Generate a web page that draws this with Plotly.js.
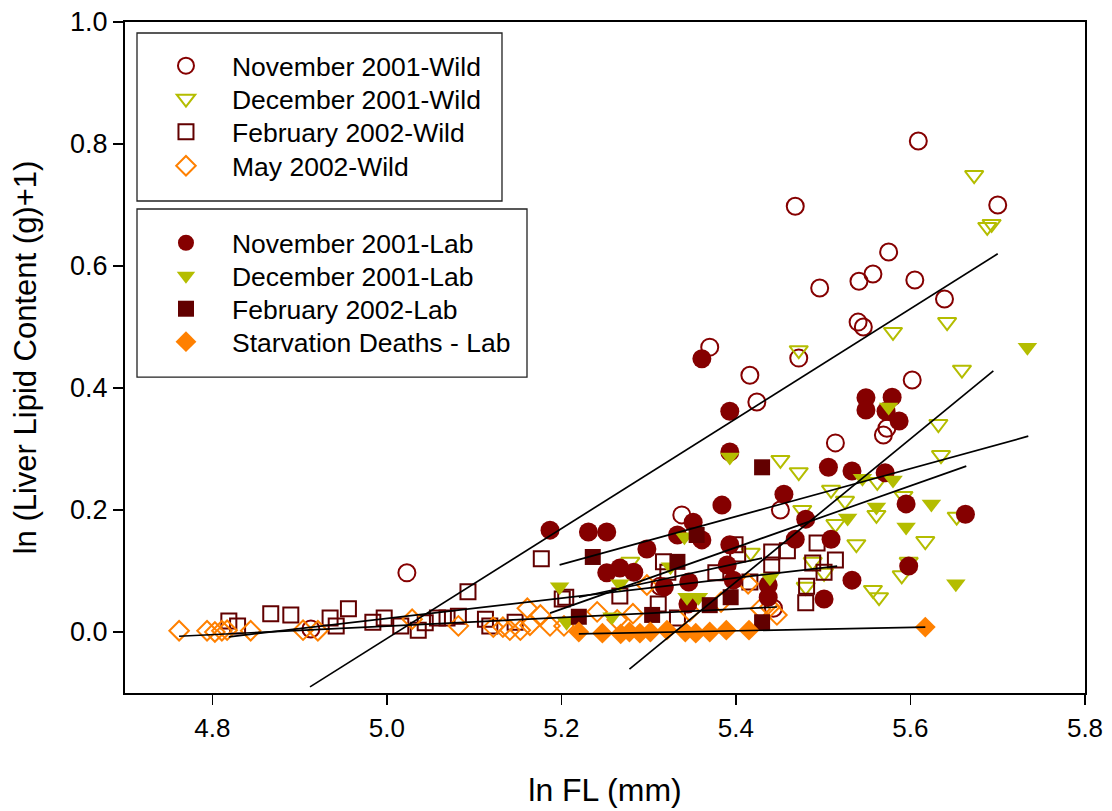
<!DOCTYPE html>
<html>
<head>
<meta charset="utf-8">
<script src="https://cdn.plot.ly/plotly-3.0.1.min.js"></script>
<style>html,body{margin:0;padding:0;background:#fff}#chart{width:1112px;height:811px}</style>
</head>
<body>
<div id="chart"></div>
<script>
// ---- data: x = ln FL (mm), y = ln(Liver Lipid Content (g)+1) ----
const novWildX = [4.913, 5.023, 5.313, 5.338, 5.370, 5.416, 5.424, 5.443, 5.451, 5.468, 5.472, 5.496, 5.514, 5.541, 5.540, 5.546, 5.557, 5.575, 5.569, 5.573, 5.609, 5.605, 5.602, 5.639, 5.700];
const novWildY = [0.005, 0.097, 0.075, 0.192, 0.467, 0.421, 0.377, 0.039, 0.200, 0.698, 0.449, 0.564, 0.310, 0.575, 0.508, 0.500, 0.587, 0.623, 0.323, 0.334, 0.805, 0.577, 0.413, 0.546, 0.700];

const decWildX = [5.279, 5.417, 5.451, 5.472, 5.472, 5.476, 5.509, 5.514, 5.525, 5.488, 5.501, 5.480, 5.538, 5.561, 5.562, 5.557, 5.564, 5.580, 5.592, 5.590, 5.598, 5.617, 5.632, 5.635, 5.642, 5.653, 5.659, 5.673, 5.688, 5.693];
const decWildY = [0.115, 0.130, 0.282, 0.462, 0.262, 0.200, 0.233, 0.177, 0.215, 0.115, 0.097, 0.074, 0.144, 0.192, 0.246, 0.069, 0.057, 0.492, 0.223, 0.093, 0.115, 0.149, 0.341, 0.290, 0.508, 0.189, 0.430, 0.749, 0.664, 0.669];

const febWildX = [4.819, 4.829, 4.867, 4.890, 4.935, 4.942, 4.956, 4.984, 4.997, 5.016, 5.036, 5.044, 5.058, 5.069, 5.082, 5.093, 5.113, 5.118, 5.147, 5.177, 5.201, 5.205, 5.267, 5.311, 5.317, 5.322, 5.333, 5.377, 5.399, 5.402, 5.416, 5.441, 5.441, 5.459, 5.493, 5.514, 5.488, 5.501, 5.481, 5.480];
const febWildY = [0.018, 0.010, 0.030, 0.028, 0.023, 0.010, 0.038, 0.016, 0.023, 0.010, 0.003, 0.015, 0.023, 0.023, 0.026, 0.066, 0.021, 0.010, 0.016, 0.120, 0.054, 0.057, 0.059, 0.046, 0.115, 0.098, 0.023, 0.097, 0.143, 0.128, 0.082, 0.131, 0.110, 0.133, 0.146, 0.118, 0.113, 0.098, 0.075, 0.048];

const mayWildX = [4.762, 4.794, 4.803, 4.811, 4.817, 4.844, 4.904, 4.921, 5.029, 5.082, 5.122, 5.133, 5.141, 5.153, 5.161, 5.164, 5.176, 5.187, 5.203, 5.241, 5.264, 5.282, 5.298, 5.347, 5.383, 5.414, 5.428, 5.439, 5.447];
const mayWildY = [0.002, 0.002, 0.000, 0.002, 0.003, 0.002, 0.003, 0.002, 0.021, 0.010, 0.008, 0.008, 0.003, 0.003, 0.039, 0.011, 0.028, 0.010, 0.010, 0.033, 0.020, 0.030, 0.077, 0.034, 0.049, 0.079, 0.038, 0.041, 0.028];

const novLabX = [5.187, 5.231, 5.252, 5.298, 5.252, 5.267, 5.283, 5.318, 5.346, 5.345, 5.351, 5.361, 5.333, 5.361, 5.384, 5.393, 5.393, 5.393, 5.390, 5.397, 5.437, 5.437, 5.455, 5.468, 5.480, 5.506, 5.509, 5.533, 5.533, 5.501, 5.549, 5.549, 5.572, 5.579, 5.587, 5.571, 5.595, 5.598, 5.663];
const novLabY = [0.167, 0.164, 0.164, 0.136, 0.097, 0.105, 0.098, 0.074, 0.082, 0.046, 0.180, 0.151, 0.159, 0.448, 0.208, 0.362, 0.295, 0.143, 0.110, 0.085, 0.077, 0.057, 0.226, 0.152, 0.185, 0.270, 0.152, 0.264, 0.085, 0.054, 0.384, 0.364, 0.362, 0.385, 0.346, 0.261, 0.210, 0.108, 0.193];

const decLabX = [5.198, 5.206, 5.258, 5.267, 5.325, 5.341, 5.344, 5.357, 5.393, 5.439, 5.528, 5.545, 5.561, 5.575, 5.580, 5.595, 5.624, 5.652, 5.734];
const decLabY = [0.074, 0.016, 0.025, 0.079, 0.107, 0.156, 0.057, 0.057, 0.287, 0.089, 0.187, 0.252, 0.205, 0.369, 0.249, 0.172, 0.210, 0.079, 0.467];

const febLabX = [5.220, 5.236, 5.304, 5.333, 5.355, 5.370, 5.394, 5.430, 5.430];
const febLabY = [0.025, 0.123, 0.028, 0.115, 0.159, 0.044, 0.057, 0.270, 0.016];

const starvX = [5.220, 5.247, 5.268, 5.278, 5.290, 5.302, 5.321, 5.342, 5.354, 5.370, 5.389, 5.415, 5.617];
const starvY = [0.000, -0.002, -0.003, 0.000, -0.002, 0.000, 0.003, 0.000, -0.002, 0.000, 0.003, 0.003, 0.008];

// regression lines (start / end points)
const fitNames = ['November 2001-Wild', 'December 2001-Wild', 'February 2002-Wild', 'May 2002-Wild', 'November 2001-Lab', 'December 2001-Lab', 'February 2002-Lab', 'Starvation Deaths - Lab'];
const fitX0 = [4.912, 5.278, 4.819, 4.762, 5.187, 5.198, 5.220, 5.220];
const fitY0 = [-0.090, -0.061, -0.008, -0.007, 0.031, 0.110, 0.057, -0.003];
const fitX1 = [5.700, 5.695, 5.516, 5.447, 5.664, 5.735, 5.430, 5.617];
const fitY1 = [0.620, 0.428, 0.108, 0.041, 0.272, 0.321, 0.121, 0.008];

const xTickVals = [4.8, 5.0, 5.2, 5.4, 5.6, 5.8];
const xTickText = ['4.8', '5.0', '5.2', '5.4', '5.6', '5.8'];
const yTickVals = [0.0, 0.2, 0.4, 0.6, 0.8, 1.0];
const yTickText = ['0.0', '0.2', '0.4', '0.6', '0.8', '1.0'];

// ---- styles ----
const RED = '#850000', FEB = '#620000', YEL = '#B4BD00', ORA = '#FF8000';
const FONT = 'Liberation Sans, Arial, Helvetica, sans-serif';

// legend rows: one single-entry legend per series, top edge in paper units
const legendTops = [0.97019, 0.92101, 0.87183, 0.82116, 0.70641, 0.65723, 0.60805, 0.55887];

function pts(name, x, y, symbol, size, color, idx, open) {
  const m = {symbol: symbol, size: size, color: color};
  m.line = open ? {color: color, width: 2} : {width: 0};
  return {type: 'scatter', mode: 'markers', name: name, x: x, y: y, marker: m,
          legend: idx === 0 ? 'legend' : 'legend' + (idx + 1), hoverinfo: 'x+y+name'};
}

const traces = [
  pts('November 2001-Wild', novWildX, novWildY, 'circle-open', 17, RED, 0, true),
  pts('December 2001-Wild', decWildX, decWildY, 'triangle-down-open', 16, YEL, 1, true),
  pts('February 2002-Wild', febWildX, febWildY, 'square-open', 15, FEB, 2, true),
  pts('May 2002-Wild', mayWildX, mayWildY, 'diamond-open', 15, ORA, 3, true),
  pts('November 2001-Lab', novLabX, novLabY, 'circle', 19, RED, 4, false),
  pts('December 2001-Lab', decLabX, decLabY, 'triangle-down', 17, YEL, 5, false),
  pts('February 2002-Lab', febLabX, febLabY, 'square', 16, FEB, 6, false),
  pts('Starvation Deaths - Lab', starvX, starvY, 'diamond', 16, ORA, 7, false)
];
for (let i = 0; i < fitNames.length; i++) {
  traces.push({type: 'scatter', mode: 'lines', name: fitNames[i] + ' fit',
    x: [fitX0[i], fitX1[i]], y: [fitY0[i], fitY1[i]],
    line: {color: '#000', width: 1.7}, showlegend: false, hoverinfo: 'skip'});
}

const layout = {
  width: 1112, height: 811,
  margin: {l: 125, r: 27, t: 22, b: 118, pad: 0},
  paper_bgcolor: '#fff', plot_bgcolor: '#fff',
  font: {family: FONT, color: '#000'},
  showlegend: true,
  xaxis: {
    range: [4.7, 5.8], tickvals: xTickVals, ticktext: xTickText,
    ticks: 'outside', ticklen: 10, tickwidth: 1.5, tickcolor: '#000',
    showline: true, linecolor: '#000', linewidth: 2, mirror: true,
    showgrid: false, zeroline: false, ticklabelstandoff: 1,
    tickfont: {family: FONT, size: 26, color: '#000'},
    title: {text: 'ln FL (mm)', font: {family: FONT, size: 32, color: '#000'}, standoff: 36}
  },
  yaxis: {
    range: [-0.1, 1.0], tickvals: yTickVals, ticktext: yTickText,
    ticks: 'outside', ticklen: 10, tickwidth: 1.5, tickcolor: '#000',
    showline: true, linecolor: '#000', linewidth: 2, mirror: true,
    showgrid: false, zeroline: false, ticklabelstandoff: 0,
    tickfont: {family: FONT, size: 27, color: '#000'},
    title: {text: 'ln (Liver Lipid Content (g)+1)', font: {family: FONT, size: 31, color: '#000'}, standoff: 24}
  },
  shapes: [
    {type: 'rect', xref: 'paper', yref: 'paper', x0: 0.0125, x1: 0.3927, y0: 0.7332, y1: 0.9836,
     line: {color: '#222', width: 1.3}, fillcolor: 'rgba(0,0,0,0)', layer: 'above'},
    {type: 'rect', xref: 'paper', yref: 'paper', x0: 0.0125, x1: 0.41875, y0: 0.4709, y1: 0.7213,
     line: {color: '#222', width: 1.3}, fillcolor: 'rgba(0,0,0,0)', layer: 'above'}
  ]
};
for (let i = 0; i < legendTops.length; i++) {
  layout[i === 0 ? 'legend' : 'legend' + (i + 1)] = {
    x: 0.0156, y: legendTops[i], xanchor: 'left', yanchor: 'top',
    bgcolor: 'rgba(0,0,0,0)', borderwidth: 0, itemwidth: 82,
    font: {family: FONT, size: 26.5, color: '#000'}
  };
}

Plotly.newPlot('chart', traces, layout, {displayModeBar: false, staticPlot: true});
</script>
</body>
</html>
